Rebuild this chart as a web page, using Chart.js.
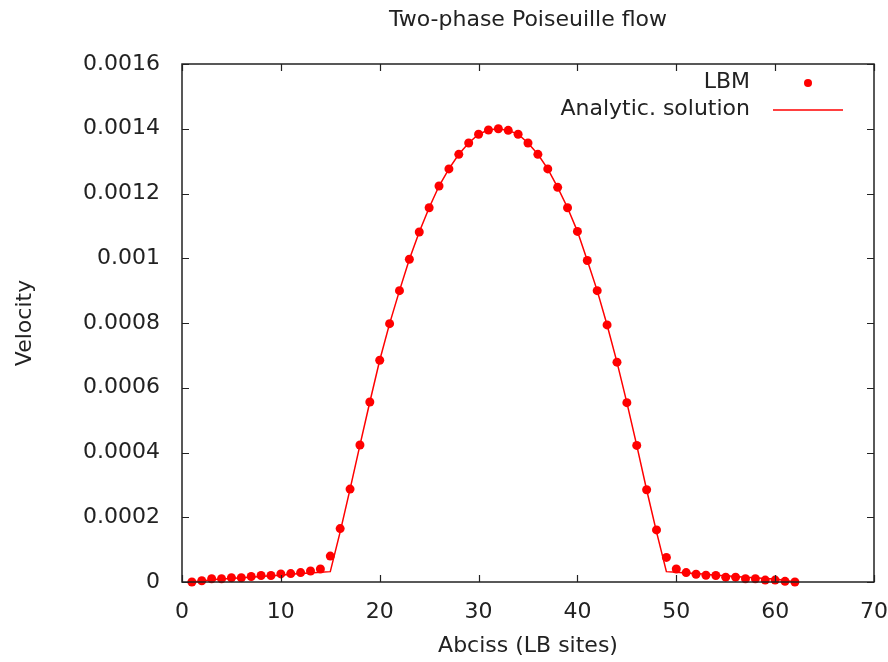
<!DOCTYPE html>
<html>
<head>
<meta charset="utf-8">
<script src="https://cdn.jsdelivr.net/npm/chart.js@4/dist/chart.umd.min.js"></script>
<style>
  html, body { margin: 0; padding: 0; background: #fff; }
  #wrap { width: 888px; height: 662px; }
</style>
</head>
<body>
<div id="wrap"><canvas id="chart" width="888" height="662"></canvas></div>
<script>
// lattice sites (x) and velocities
const sites = [1,2,3,4,5,6,7,8,9,10,11,12,13,14,15,16,17,18,19,20,21,22,23,24,25,26,27,28,29,30,31,
  32,33,34,35,36,37,38,39,40,41,42,43,44,45,46,47,48,49,50,51,52,53,54,55,56,57,58,59,60,61,62];

const lbmVelocity = [0,0.000004,0.00001,0.00001,0.000013,0.000013,0.000017,0.00002,0.00002,0.000025,
  0.000026,0.000029,0.000034,0.00004,0.00008,0.000165,0.000287,0.000423,0.000556,0.000685,0.000798,
  0.0009,0.000997,0.001081,0.001156,0.001223,0.001276,0.001321,0.001356,0.001383,0.001396,0.0014,
  0.001395,0.001383,0.001356,0.001321,0.001276,0.001219,0.001156,0.001083,0.000993,0.0009,0.000794,
  0.000679,0.000554,0.000422,0.000285,0.000161,0.000076,0.00004,0.000029,0.000024,0.000021,0.00002,
  0.000015,0.000015,0.00001,0.00001,0.000006,0.000006,0.000002,0];

const analyticVelocity = [0,0.000003,0.000007,0.000009,0.000011,0.000013,0.000015,0.000017,0.000019,
  0.000021,0.000024,0.000026,0.000028,0.00003,0.000032,0.000155,0.000287,0.000423,0.000556,0.000685,
  0.000798,0.0009,0.000997,0.001081,0.001156,0.001223,0.001276,0.001321,0.001356,0.001383,0.001396,
  0.0014,0.001395,0.001383,0.001356,0.001321,0.001276,0.001219,0.001156,0.001083,0.000993,0.0009,
  0.000794,0.000679,0.000554,0.000422,0.000285,0.000155,0.000032,0.00003,0.000028,0.000026,0.000024,
  0.000021,0.000019,0.000017,0.000015,0.000013,0.000011,0.000009,0.000005,0];

const seriesLabels = ['LBM', 'Analytic. solution'];
const chartTitle = 'Two-phase Poiseuille flow';
const xTitle = 'Abciss (LB sites)';
const yTitle = 'Velocity';

const FONT = "'DejaVu Sans', sans-serif";
const TEXT = '#222';
const RED = '#ff0000';

// gnuplot style frame, inward ticks on all four sides, and the key
const gnuplotFrame = {
  id: 'gnuplotFrame',
  afterDatasetsDraw(chart) {
    const { ctx, chartArea: a, scales } = chart;
    ctx.save();
    ctx.strokeStyle = '#222';
    ctx.lineWidth = 1.5;
    ctx.strokeRect(a.left, a.top, a.right - a.left, a.bottom - a.top);

    const len = 7;
    ctx.lineWidth = 1.2;
    ctx.beginPath();
    scales.x.ticks.forEach(t => {
      const px = Math.round(scales.x.getPixelForValue(t.value)) + 0.5;
      ctx.moveTo(px, a.bottom); ctx.lineTo(px, a.bottom - len);
      ctx.moveTo(px, a.top); ctx.lineTo(px, a.top + len);
    });
    scales.y.ticks.forEach(t => {
      const py = Math.round(scales.y.getPixelForValue(t.value)) + 0.5;
      ctx.moveTo(a.left, py); ctx.lineTo(a.left + len, py);
      ctx.moveTo(a.right, py); ctx.lineTo(a.right - len, py);
    });
    ctx.stroke();

    // key
    const textRight = a.right - 124;
    const sampleLeft = a.right - 101;
    const sampleRight = a.right - 31;
    ctx.font = '22px ' + FONT;
    ctx.fillStyle = TEXT;
    ctx.textAlign = 'right';
    ctx.textBaseline = 'middle';
    ctx.fillText(chart.data.datasets[0].label, textRight, a.top + 18);
    ctx.fillText(chart.data.datasets[1].label, textRight, a.top + 45);

    ctx.fillStyle = RED;
    ctx.beginPath();
    ctx.arc((sampleLeft + sampleRight) / 2, a.top + 19, 4, 0, Math.PI * 2);
    ctx.fill();

    ctx.strokeStyle = RED;
    ctx.lineWidth = 1.5;
    ctx.beginPath();
    ctx.moveTo(sampleLeft, a.top + 46);
    ctx.lineTo(sampleRight, a.top + 46);
    ctx.stroke();
    ctx.restore();
  }
};

new Chart(document.getElementById('chart'), {
  type: 'line',
  data: {
    datasets: [
      {
        label: seriesLabels[0],
        data: sites.map((s, i) => ({ x: s, y: lbmVelocity[i] })),
        showLine: false,
        pointStyle: 'circle',
        pointRadius: 4.5,
        pointBorderWidth: 0,
        pointBackgroundColor: RED,
        clip: false,
        order: 0
      },
      {
        label: seriesLabels[1],
        data: sites.map((s, i) => ({ x: s, y: analyticVelocity[i] })),
        borderColor: RED,
        borderWidth: 1.5,
        pointRadius: 0,
        tension: 0,
        clip: false,
        order: 1
      }
    ]
  },
  options: {
    responsive: false,
    animation: false,
    layout: { padding: { right: 14 } },
    plugins: {
      legend: { display: false },
      tooltip: { enabled: false },
      title: {
        display: true,
        text: chartTitle,
        fullSize: false,
        color: TEXT,
        font: { family: FONT, size: 22, weight: 'normal' },
        padding: { top: 7, bottom: 30.6 }
      }
    },
    scales: {
      x: {
        type: 'linear',
        min: 0,
        max: 70,
        afterFit(scale) {
          scale.height = 80;
          scale.paddingLeft = 0;
          scale.paddingRight = 0;
        },
        ticks: {
          stepSize: 10,
          color: TEXT,
          padding: 17,
          maxRotation: 0,
          font: { family: FONT, size: 22 }
        },
        grid: { display: false, drawTicks: false },
        border: { display: false },
        title: {
          display: true,
          text: xTitle,
          color: TEXT,
          font: { family: FONT, size: 22 },
          padding: { top: 0, bottom: 3 }
        }
      },
      y: {
        min: 0,
        max: 0.0016,
        afterFit(scale) {
          scale.width = 182;
          scale.paddingTop = 0;
          scale.paddingBottom = 0;
        },
        ticks: {
          stepSize: 0.0002,
          color: TEXT,
          padding: 22,
          font: { family: FONT, size: 22 },
          callback: v => String(+v.toFixed(4))
        },
        grid: { display: false, drawTicks: false },
        border: { display: false },
        title: {
          display: true,
          text: yTitle,
          color: TEXT,
          font: { family: FONT, size: 22 },
          padding: { top: 12, bottom: 0 }
        }
      }
    }
  },
  plugins: [gnuplotFrame]
});
</script>
</body>
</html>
